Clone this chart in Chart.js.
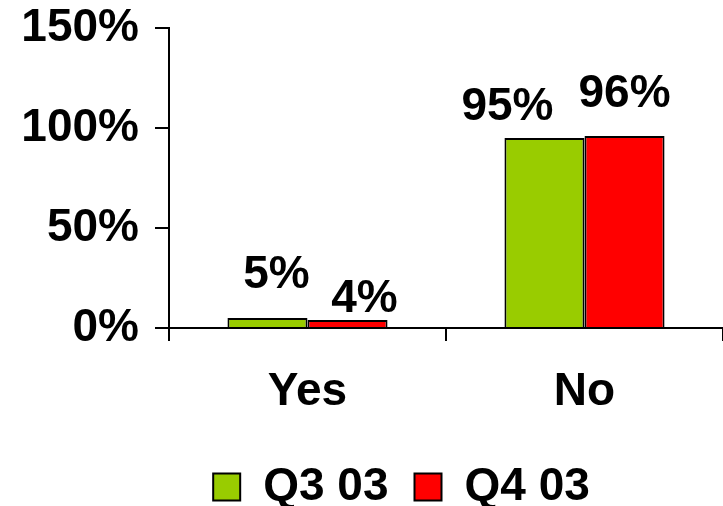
<!DOCTYPE html>
<html>
<head>
<meta charset="utf-8">
<script src="https://cdn.jsdelivr.net/npm/chart.js@4/dist/chart.umd.min.js"></script>
<style>
  html, body { margin: 0; padding: 0; background: #fff; }
  #wrap { width: 723px; height: 506px; }
</style>
</head>
<body>
<div id="wrap"><canvas id="myChart" width="723" height="506"></canvas></div>
<script>
// data
const categories = ['Yes', 'No']
const seriesNames = ['Q3 03', 'Q4 03']
const q3Values = [5, 95]
const q4Values = [4, 96]
const yTicks = [0, 50, 100, 150]

const green = '#99CC00'
const red = '#FF0000'
const fontFamily = '"Liberation Sans", Arial, sans-serif'

// the labels in the original were placed by hand, so nudge each one a bit
const labelNudge = [
    [{ dx: 9, dy: 30 }, { dx: -37, dy: 18 }],
    [{ dx: 17, dy: 8 }, { dx: 0, dy: 29 }]
]

const valueLabels = {
    id: 'valueLabels',
    afterDatasetsDraw(chart) {
        const ctx = chart.ctx
        ctx.save()
        ctx.font = 'bold 46px ' + fontFamily
        ctx.fillStyle = '#000'
        ctx.textAlign = 'center'
        ctx.textBaseline = 'alphabetic'
        chart.data.datasets.forEach((ds, i) => {
            const meta = chart.getDatasetMeta(i)
            meta.data.forEach((bar, j) => {
                const n = labelNudge[i][j]
                ctx.fillText(ds.data[j] + '%', bar.x + n.dx, bar.y - n.dy)
            })
        })
        ctx.restore()
    }
}

// legend sits a little right of centre in the original
const legendShift = {
    id: 'legendShift',
    afterLayout(chart) {
        const lg = chart.legend
        lg.left += 40
        lg.right += 40
    }
}

const config = {
    type: 'bar',
    data: {
        labels: categories,
        datasets: [{
            label: seriesNames[0],
            data: q3Values,
            backgroundColor: green,
            borderColor: '#000',
            borderWidth: 2,
            borderSkipped: 'bottom'
        }, {
            label: seriesNames[1],
            data: q4Values,
            backgroundColor: red,
            borderColor: '#000',
            borderWidth: 2,
            borderSkipped: 'bottom'
        }]
    },
    options: {
        responsive: false,
        animation: false,
        layout: { padding: { top: 28, right: 0, left: 0, bottom: -14 } },
        datasets: {
            bar: { categoryPercentage: 0.578, barPercentage: 1 }
        },
        plugins: {
            legend: {
                position: 'bottom',
                labels: {
                    boxWidth: 27,
                    boxHeight: 27,
                    padding: 26,
                    color: '#000',
                    font: { family: fontFamily, size: 46, weight: 'bold' }
                }
            },
            tooltip: { enabled: false }
        },
        scales: {
            x: {
                grid: {
                    offset: true,
                    drawOnChartArea: false,
                    drawTicks: true,
                    tickLength: 13,
                    color: '#000',
                    lineWidth: 2
                },
                border: { display: true, color: '#000', width: 2 },
                ticks: {
                    color: '#000',
                    padding: 24,
                    font: { family: fontFamily, size: 46, weight: 'bold' }
                },
                afterFit(scale) {
                    scale.height = 110
                    scale.paddingLeft = 0
                    scale.paddingRight = 0
                }
            },
            y: {
                min: 0,
                max: 150,
                afterBuildTicks(scale) {
                    scale.ticks = yTicks.map(v => ({ value: v }))
                },
                grid: {
                    drawOnChartArea: false,
                    drawTicks: true,
                    tickLength: 14,
                    color: '#000',
                    lineWidth: 2
                },
                border: { display: true, color: '#000', width: 2 },
                ticks: {
                    color: '#000',
                    padding: 16,
                    callback: v => v + '%',
                    font: { family: fontFamily, size: 46, weight: 'bold' }
                },
                afterFit(scale) {
                    scale.width = 169
                    scale.paddingTop = 0
                    scale.paddingBottom = 0
                }
            }
        }
    },
    plugins: [valueLabels, legendShift]
}

const myChart = new Chart(document.getElementById('myChart'), config)
</script>
</body>
</html>
